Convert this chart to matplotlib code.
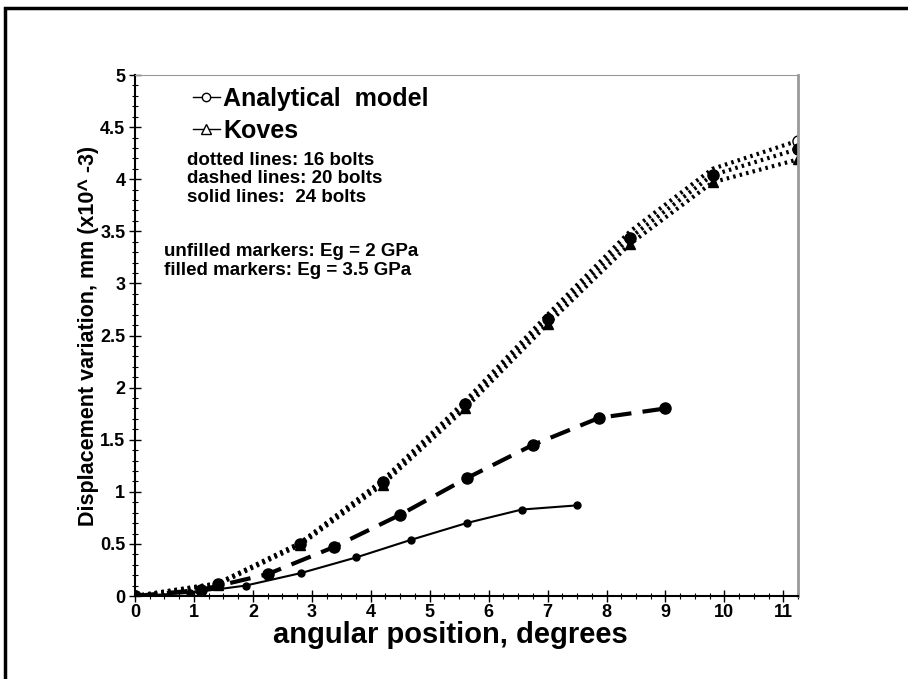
import numpy as np
import matplotlib
matplotlib.use("Agg")
import matplotlib.pyplot as plt
from matplotlib.lines import Line2D
from matplotlib.patches import Rectangle

plt.rcParams['font.family'] = ['Liberation Sans', 'DejaVu Sans']
plt.rcParams['font.weight'] = 'bold'

# 16 bolts (half pitch 11.25 deg)
x16 = [0, 1.4, 2.8, 4.2, 5.6, 7.0, 8.4, 9.8, 11.25]
ana16_soft = [0, 0.12, 0.51, 1.11, 1.87, 2.70, 3.50, 4.10, 4.37]
ana16_hard = [0, 0.12, 0.50, 1.09, 1.84, 2.66, 3.44, 4.04, 4.29]
kov16_hard = [0, 0.11, 0.49, 1.07, 1.80, 2.61, 3.38, 3.97, 4.19]

# 20 bolts (half pitch 9 deg)
x20 = [0, 1.125, 2.25, 3.375, 4.5, 5.625, 6.75, 7.875, 9.0]
ana20_hard = [0, 0.06, 0.21, 0.47, 0.78, 1.13, 1.45, 1.71, 1.80]

# 24 bolts (half pitch 7.5 deg)
x24 = [0, 0.9375, 1.875, 2.8125, 3.75, 4.6875, 5.625, 6.5625, 7.5]
ana24_hard = [0, 0.03, 0.10, 0.22, 0.37, 0.54, 0.70, 0.83, 0.87]

fig = plt.figure(figsize=(9.08, 6.79), dpi=100)
ax = fig.add_axes([0.1487, 0.1222, 0.7302, 0.7673])

dot = (0, (0.6, 1.0))
ax.plot(x16, ana16_soft, color='k', lw=3, ls=dot, marker='o', ms=8,
        mfc='white', mec='k', markevery=[8])
ax.plot(x16, ana16_hard, color='k', lw=3, ls=dot, marker='o', ms=8)
ax.plot(x16, kov16_hard, color='k', lw=3, ls=dot, marker='^', ms=7)
ax.plot(x20, ana20_hard, color='k', lw=3, ls=(0, (5, 2.7)), marker='o', ms=8)
ax.plot(x24, ana24_hard, color='k', lw=1.5, ls='-', marker='o', ms=5)

ax.set_xlim(0, 11.25)
ax.set_ylim(0, 5)
ax.set_xticks(range(12))
ax.set_yticks(np.arange(0, 5.01, 0.5))
ax.set_yticklabels(['0', '0.5', '1', '1.5', '2', '2.5', '3', '3.5', '4', '4.5', '5'])
ax.set_xticks(np.arange(0, 11.26, 0.25), minor=True)
ax.set_yticks(np.arange(0, 5.01, 0.1), minor=True)
ax.tick_params(which='major', direction='inout', length=8, width=1, labelsize=13)
ax.tick_params(axis='x', which='major', pad=2)
ax.tick_params(axis='y', which='major', pad=3)
ax.tick_params(which='minor', direction='inout', length=4, width=0.8)
for lab in ax.get_xticklabels() + ax.get_yticklabels():
    lab.set_fontweight('bold')
ax.spines['top'].set_color('#999999')
ax.spines['right'].set_color('#999999')
ax.spines['right'].set_linewidth(2)
ax.spines['left'].set_linewidth(1.5)
ax.spines['bottom'].set_linewidth(1.5)

ax.set_xlabel('angular position, degrees', fontsize=21, fontweight='bold')
ax.xaxis.set_label_coords(0.475, -0.048)
ax.set_ylabel('Displacement variation, mm (x10^ -3)', fontsize=15.5, fontweight='bold')
ax.yaxis.set_label_coords(-0.055, 0.5)

handles = [Line2D([], [], color='k', lw=1, marker='o', ms=6, mfc='white', mec='k'),
           Line2D([], [], color='k', lw=1, marker='^', ms=7, mfc='white', mec='k')]
ax.legend(handles, ['Analytical  model', 'Koves'], loc='upper left',
          bbox_to_anchor=(0.053, 1.02), frameon=False,
          handlelength=1.1, handletextpad=0.12, labelspacing=0.3,
          prop={'weight': 'bold', 'size': 18})

fig.text(187 / 908, 1 - 179 / 679, 'dotted lines: 16 bolts\ndashed lines: 20 bolts\nsolid lines:  24 bolts',
         fontsize=13.5, fontweight='bold', va='center', linespacing=1.1)
fig.text(164 / 908, 1 - 261 / 679, 'unfilled markers: Eg = 2 GPa\nfilled markers: Eg = 3.5 GPa',
         fontsize=13.5, fontweight='bold', va='center', linespacing=1.1)

fig.patches.append(Rectangle((5 / 908, -0.1), 1.2, 1 - 8 / 679 + 0.1, transform=fig.transFigure,
                             fill=False, ec='k', lw=2.5))

fig.savefig('out.png', dpi=100)
